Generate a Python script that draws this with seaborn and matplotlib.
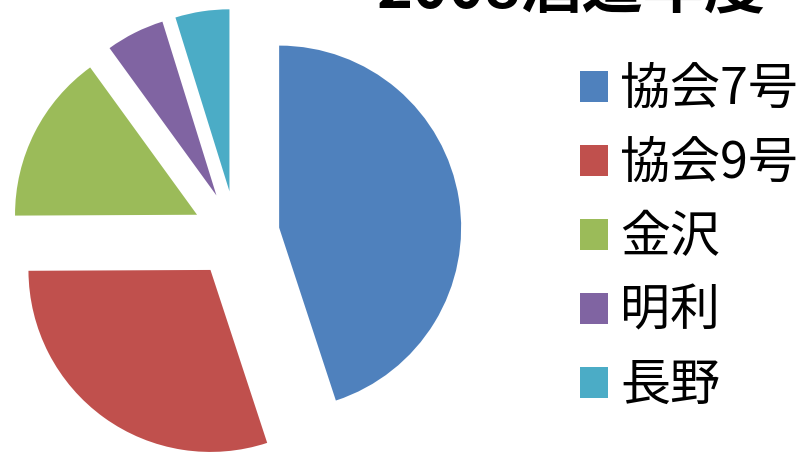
import matplotlib
matplotlib.use("Agg")
import matplotlib.pyplot as plt
import seaborn as sns
from matplotlib.patches import Patch

sns.set_theme(style="white")
plt.rcParams['font.family'] = ['Noto Sans CJK JP', 'DejaVu Sans']
plt.rcParams['text.color'] = 'black'

title = "2008酒造年度"
labels = ["協会7号", "協会9号", "金沢", "明利", "長野"]
values = [45.0, 30.0, 15.1, 5.2, 4.8]
colors = ["#4F81BD", "#C0504D", "#9BBB59", "#8064A2", "#4BACC6"]
explode = [0.24, 0.24, 0.24, 0.24, 0.24]

W, H = 801, 455
fig = plt.figure(figsize=(W / 100, H / 100), dpi=100)
ax = fig.add_axes([0, 0, 1, 1])

r_px = 182.0
cx, cy = 236.0, 234.5
ax.pie(values, colors=colors, explode=explode, startangle=90, counterclock=False,
       radius=1.0, wedgeprops=dict(linewidth=0))
ax.set_aspect('auto')
ax.set_xlim(-cx / r_px, (W - cx) / r_px)
ax.set_ylim(-(H - cy) / r_px, cy / r_px)
ax.axis('off')

fig.text(571 / W, (H - 7) / H, title, ha='center', va='baseline',
         fontsize=44, fontweight='bold', color='black')

handles = [Patch(facecolor=c, edgecolor='none', label=l) for c, l in zip(colors, labels)]
leg = fig.legend(handles=handles, loc='upper left', bbox_to_anchor=(580 / W, 1 - 64 / H),
                 frameon=False, fontsize=36, handlelength=0.56, handleheight=0.56,
                 handletextpad=0.24, labelspacing=0.44, borderaxespad=0, borderpad=0,
                 labelcolor='black')

fig.savefig("out.png", dpi=100)
